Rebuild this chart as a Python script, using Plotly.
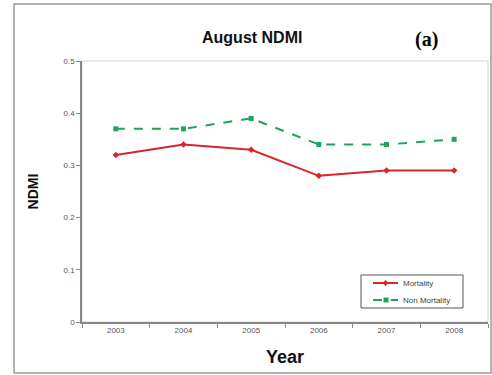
import plotly.graph_objects as go

years = ["2003", "2004", "2005", "2006", "2007", "2008"]
mortality = [0.32, 0.34, 0.33, 0.28, 0.29, 0.29]
non_mortality = [0.37, 0.37, 0.39, 0.34, 0.34, 0.35]
y_ticks = [0, 0.1, 0.2, 0.3, 0.4, 0.5]
y_tick_text = ["0", "0.1", "0.2", "0.3", "0.4", "0.5"]
series_names = ["Mortality", "Non Mortality"]
series_colors = ["#d8252a", "#1fa45a"]

W, H = 492, 375
L, R, T, B = 82, 4, 61, 53
pw, ph = W - L - R, H - T - B

def px(x):
    return (x - L) / pw

def py(y):
    return (H - B - y) / ph

fig = go.Figure()
fig.add_trace(go.Scatter(
    x=years, y=mortality, name=series_names[0], mode="lines+markers",
    line=dict(color=series_colors[0], width=2),
    marker=dict(symbol="diamond", size=5, color=series_colors[0]),
))
fig.add_trace(go.Scatter(
    x=years, y=non_mortality, name=series_names[1], mode="lines+markers",
    line=dict(color=series_colors[1], width=2, dash="dash"),
    marker=dict(symbol="square", size=5, color=series_colors[1]),
))

# outer chart frame and plot-area border
fig.add_shape(type="rect", xref="paper", yref="paper",
              x0=px(14), x1=px(491), y0=py(373), y1=py(4),
              line=dict(color="#9a9a9a", width=1.5), layer="below")
fig.add_shape(type="rect", xref="paper", yref="paper",
              x0=0, x1=1, y0=0, y1=1,
              line=dict(color="#d4d4d4", width=1), layer="below")

# compact boxed legend
fig.add_shape(type="rect", xref="paper", yref="paper",
              x0=px(361), x1=px(463), y0=py(308), y1=py(275),
              line=dict(color="#555", width=1), fillcolor="white")
rows = [283, 300]
for name, color, ry, dash in zip(series_names, series_colors, rows, ["solid", "dash"]):
    fig.add_shape(type="line", xref="paper", yref="paper",
                  x0=px(373), x1=px(398), y0=py(ry), y1=py(ry),
                  line=dict(color=color, width=2, dash=dash))
    fig.add_annotation(text=name, xref="paper", yref="paper",
                       x=px(401), y=py(ry), xanchor="left", yanchor="middle",
                       showarrow=False, font=dict(size=8, color="#444"))
cx, cy, d = 385.5, rows[0], 3
fig.add_shape(type="path", xref="paper", yref="paper",
              path=f"M {px(cx - d)},{py(cy)} L {px(cx)},{py(cy - d)} "
                   f"L {px(cx + d)},{py(cy)} L {px(cx)},{py(cy + d)} Z",
              fillcolor=series_colors[0], line=dict(width=0))
fig.add_shape(type="rect", xref="paper", yref="paper",
              x0=px(383.5), x1=px(388.5), y0=py(rows[1] + 2.5), y1=py(rows[1] - 2.5),
              fillcolor=series_colors[1], line=dict(width=0))

fig.add_annotation(text="<b>August NDMI</b>", xref="paper", yref="paper",
                   x=px(252), y=py(27), showarrow=False,
                   font=dict(family="Arial, Liberation Sans", size=16, color="#111"))
fig.add_annotation(text="<b>(a)</b>", xref="paper", yref="paper",
                   x=px(440), y=py(26), showarrow=False,
                   font=dict(family="'Times New Roman', 'Liberation Serif', 'DejaVu Serif', serif",
                             size=20, color="#000"))

fig.update_layout(
    width=W, height=H, margin=dict(l=L, r=R, t=T, b=B),
    paper_bgcolor="white", plot_bgcolor="white",
    font=dict(family="Arial, Liberation Sans", color="#555"),
    showlegend=False,
    xaxis=dict(type="category", range=[-0.5, 5.5], showgrid=False,
               showline=True, linecolor="#888", linewidth=1.5,
               ticks="outside", ticklen=4, tickcolor="#888",
               tickson="boundaries",
               tickfont=dict(size=8, color="#555"),
               title=dict(text="<b>Year</b>", standoff=16,
                          font=dict(size=18, color="#111"))),
    yaxis=dict(range=[0, 0.5], tickvals=y_ticks, ticktext=y_tick_text,
               showgrid=False, showline=True, linecolor="#888", linewidth=1.5,
               ticks="outside", ticklen=4, tickcolor="#888",
               tickfont=dict(size=8, color="#555"),
               title=dict(text="<b>NDMI</b>", standoff=22,
                          font=dict(size=14, color="#111"))),
)

fig.write_html("out.html")
